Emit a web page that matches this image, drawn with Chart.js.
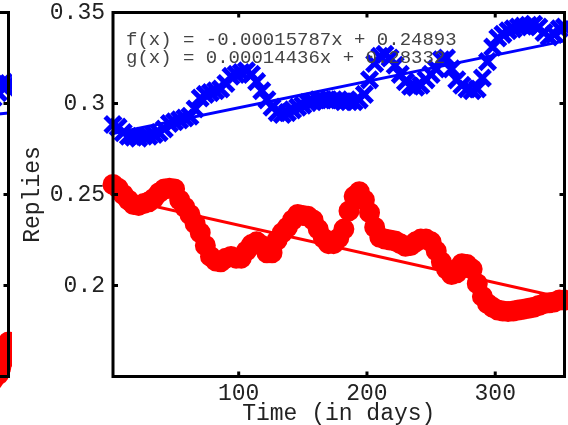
<!DOCTYPE html>
<html>
<head>
<meta charset="utf-8">
<script src="https://cdn.jsdelivr.net/npm/chart.js@4.4.0/dist/chart.umd.min.js"></script>
<style>
  html, body { margin: 0; padding: 0; background: #fff; overflow: hidden; }
  #wrap { position: relative; width: 568px; height: 425px; overflow: hidden; }
  #wrap canvas { position: absolute; top: 0; }
  #main { left: 0; }
  #side { left: -556px; }
</style>
</head>
<body>
<div id="wrap">
  <canvas id="side" width="568" height="425"></canvas>
  <canvas id="main" width="568" height="425"></canvas>
</div>
<script>
// days on the x axis (every 4th day)
const days = [2, 6, 10, 14, 18, 22, 26, 30, 34, 38, 42, 46, 50, 54, 58, 62, 66, 70, 74, 78,
  82, 86, 90, 94, 98, 102, 106, 110, 114, 118, 122, 126, 130, 134, 138, 142, 146, 150, 154, 158,
  162, 166, 170, 174, 178, 182, 186, 190, 194, 198, 202, 206, 210, 214, 218, 222, 226, 230, 234, 238,
  242, 246, 250, 254, 258, 262, 266, 270, 274, 278, 282, 286, 290, 294, 298, 302, 306, 310, 314, 318,
  322, 326, 330, 334, 338, 342, 346, 350, 354];

// blue crosses
const blueReplies = [0.2885, 0.287, 0.284, 0.282, 0.2815, 0.281, 0.282, 0.282, 0.283, 0.284,
  0.286, 0.289, 0.290, 0.291, 0.292, 0.293, 0.297, 0.303, 0.305, 0.306,
  0.307, 0.308, 0.311, 0.315, 0.316, 0.317, 0.318, 0.316, 0.312, 0.307,
  0.302, 0.298, 0.295, 0.294, 0.295, 0.2965, 0.298, 0.299, 0.3005, 0.301,
  0.302, 0.302, 0.302, 0.302, 0.302, 0.301, 0.301, 0.301, 0.302, 0.305,
  0.313, 0.322, 0.326, 0.327, 0.325, 0.321, 0.316, 0.312, 0.3095, 0.309,
  0.310, 0.313, 0.316, 0.319, 0.324, 0.325, 0.319, 0.313, 0.310, 0.308,
  0.307, 0.308, 0.314, 0.323, 0.331, 0.336, 0.338, 0.340, 0.341, 0.342,
  0.3425, 0.343, 0.3435, 0.342, 0.339, 0.3365, 0.338, 0.341, 0.342];

// red circles
const redReplies = [0.2555, 0.2535, 0.250, 0.247, 0.2445, 0.244, 0.245, 0.246, 0.248, 0.251,
  0.253, 0.2535, 0.253, 0.247, 0.243, 0.239, 0.234, 0.229, 0.222, 0.216,
  0.2135, 0.213, 0.215, 0.216, 0.215, 0.215, 0.219, 0.2225, 0.224, 0.222,
  0.218, 0.218, 0.225, 0.229, 0.232, 0.236, 0.239, 0.2385, 0.238, 0.236,
  0.231, 0.226, 0.223, 0.223, 0.226, 0.231, 0.241, 0.249, 0.2515, 0.247,
  0.240, 0.232, 0.2265, 0.2255, 0.225, 0.2245, 0.223, 0.2215, 0.222, 0.224,
  0.2255, 0.2255, 0.224, 0.219, 0.213, 0.209, 0.206, 0.207, 0.212, 0.2115,
  0.209, 0.201, 0.194, 0.190, 0.188, 0.1865, 0.186, 0.1857, 0.186, 0.1865,
  0.187, 0.1875, 0.188, 0.189, 0.190, 0.1905, 0.191, 0.192, 0.192];

// fitted lines, end points taken from f(x) and g(x)
const fitDays = [2, 354];
const fitBlue = [0.2835, 0.3344];
const fitRed = [0.2486, 0.1930];

// right edge of the neighbouring panel (only a sliver is visible)
const sideDays = [338, 342, 346, 348, 350, 352, 354, 356];
const sideBlue = [0.300, 0.303, 0.306, 0.310, 0.312, 0.309, 0.311, 0.313];
const sideRed = [0.146, 0.148, 0.151, 0.155, 0.159, 0.164, 0.169, 0.172];
const sideFitDays = [2, 354];
const sideFitBlue = [0.270, 0.2948];

const xTickValues = [100, 200, 300];
const xTickLabels = ['100', '200', '300'];
const yTickValues = [0.2, 0.25, 0.3, 0.35];
const yTickLabels = ['0.2', '0.25', '0.3', '0.35'];

const fitText = ['f(x) = -0.00015787x + 0.24893', 'g(x) = 0.00014436x + 0.28332'];

const mono = "'Liberation Mono', 'DejaVu Sans Mono', monospace";

function pts(xs, ys) {
  return xs.map((d, i) => ({ x: d, y: ys[i] }));
}

const framePlugin = {
  id: 'frame',
  afterDatasetsDraw(chart) {
    const { ctx, chartArea: a, scales: { x, y } } = chart;
    ctx.save();
    ctx.strokeStyle = '#000';
    ctx.lineWidth = 3;
    ctx.strokeRect(a.left, a.top, a.right - a.left, a.bottom - a.top);
    ctx.beginPath();
    yTickValues.forEach(v => {
      const py = y.getPixelForValue(v);
      ctx.moveTo(a.left, py); ctx.lineTo(a.left + 5, py);
      ctx.moveTo(a.right, py); ctx.lineTo(a.right - 5, py);
    });
    xTickValues.forEach(v => {
      const px = x.getPixelForValue(v);
      ctx.moveTo(px, a.bottom); ctx.lineTo(px, a.bottom - 5);
      ctx.moveTo(px, a.top); ctx.lineTo(px, a.top + 5);
    });
    ctx.stroke();
    ctx.restore();
  }
};

const notePlugin = {
  id: 'note',
  afterDatasetsDraw(chart) {
    const { ctx, chartArea: a } = chart;
    ctx.save();
    ctx.font = '19px ' + mono;
    ctx.fillStyle = '#444';
    ctx.textBaseline = 'middle';
    ctx.fillText(fitText[0], a.left + 13, a.top + 27);
    ctx.fillText(fitText[1], a.left + 13, a.top + 45);
    ctx.restore();
  }
};

function makeDatasets(xs, blue, red, fx, fBlue, fRed) {
  const sets = [
    {
      data: pts(xs, blue), showLine: false, pointStyle: 'crossRot',
      pointRadius: 11, borderColor: '#0000ff', borderWidth: 5, clip: false
    },
    {
      data: pts(xs, red), showLine: false, pointStyle: 'circle',
      pointRadius: 9.5, borderColor: '#ff0000', backgroundColor: '#ff0000', borderWidth: 2, clip: false
    },
    {
      data: pts(fx, fBlue), showLine: true, pointRadius: 0,
      borderColor: '#0000ff', borderWidth: 3
    }
  ];
  if (fRed) {
    sets.push({
      data: pts(fx, fRed), showLine: true, pointRadius: 0,
      borderColor: '#ff0000', borderWidth: 3
    });
  }
  return sets;
}

function makeOptions() {
  return {
    responsive: false,
    animation: false,
    events: [],
    layout: { autoPadding: false, padding: { top: 12.5, right: 3.5, left: 0, bottom: 0 } },
    plugins: { legend: { display: false }, tooltip: { enabled: false } },
    scales: {
      x: {
        type: 'linear', min: 2, max: 354,
        grid: { display: false, drawTicks: false }, border: { display: false },
        afterBuildTicks: s => { s.ticks = xTickValues.map(v => ({ value: v })); },
        ticks: {
          font: { family: mono, size: 23 }, color: '#222', padding: 4, maxRotation: 0,
          callback: v => xTickLabels[xTickValues.indexOf(v)]
        },
        title: {
          display: true, text: 'Time (in days)', color: '#222',
          font: { family: mono, size: 23, lineHeight: 1 }, padding: 0
        },
        afterFit: s => { s.height = 48.5; s.paddingLeft = 0; s.paddingRight = 0; }
      },
      y: {
        type: 'linear', min: 0.15, max: 0.35,
        grid: { display: false, drawTicks: false }, border: { display: false },
        afterBuildTicks: s => { s.ticks = yTickValues.map(v => ({ value: v })); },
        ticks: {
          font: { family: mono, size: 23 }, color: '#222', padding: 8,
          callback: v => yTickLabels[yTickValues.indexOf(v)]
        },
        title: {
          display: true, text: 'Replies', color: '#222',
          font: { family: mono, size: 23, lineHeight: 1 }, padding: { top: 21.5, bottom: 0 }
        },
        afterFit: s => { s.width = 113; s.paddingTop = 0; s.paddingBottom = 0; }
      }
    }
  };
}

new Chart(document.getElementById('side'), {
  type: 'scatter',
  data: { datasets: makeDatasets(sideDays, sideBlue, sideRed, sideFitDays, sideFitBlue, null) },
  options: makeOptions(),
  plugins: [framePlugin]
});

new Chart(document.getElementById('main'), {
  type: 'scatter',
  data: { datasets: makeDatasets(days, blueReplies, redReplies, fitDays, fitBlue, fitRed) },
  options: makeOptions(),
  plugins: [framePlugin, notePlugin]
});
</script>
</body>
</html>
